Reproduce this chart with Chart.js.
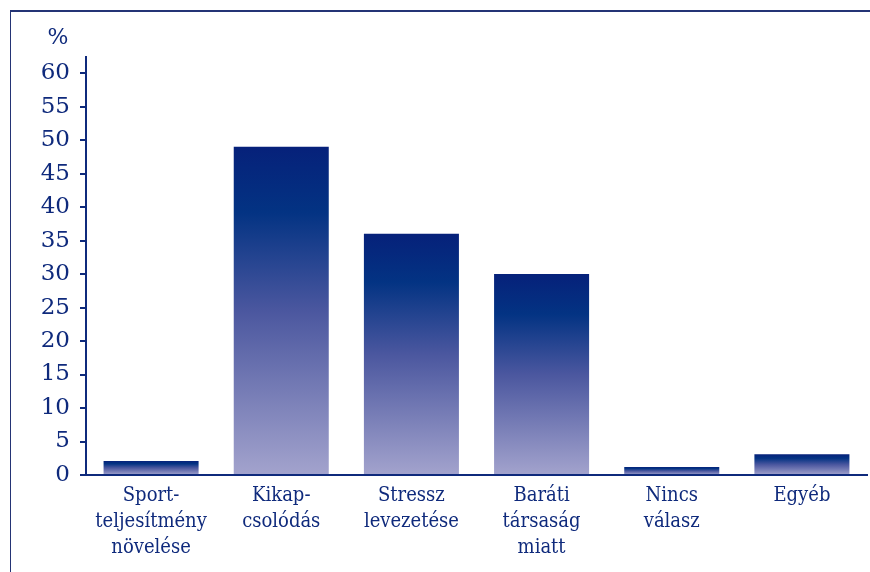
<!DOCTYPE html>
<html>
<head>
<meta charset="utf-8">
<script src="https://cdn.jsdelivr.net/npm/chart.js@4/dist/chart.umd.min.js"></script>
<style>
  html, body { margin: 0; padding: 0; background: #fff; }
  #wrap { position: relative; width: 870px; height: 572px; }
  #frame { position: absolute; left: 10px; top: 10px; right: 0; bottom: 0;
           border-top: 2px solid #243475; border-left: 1.5px solid #243475; }
  canvas { position: absolute; left: 0; top: 0; }
</style>
</head>
<body>
<div id="wrap">
  <div id="frame"></div>
  <canvas id="myChart" width="870" height="572"></canvas>
</div>
<script>
// KATEGORIAK ES ERTEKEK
const categories = [
    ['Sport-', 'teljesítmény', 'növelése'],
    ['Kikap-', 'csolódás'],
    ['Stressz', 'levezetése'],
    ['Baráti', 'társaság', 'miatt'],
    ['Nincs', 'válasz'],
    ['Egyéb']
];
const values = [2.1, 49, 36, 30, 1.2, 3.1];
const yTicks = [0, 5, 10, 15, 20, 25, 30, 35, 40, 45, 50, 55, 60];
const unitLabel = '%';

const navy = '#0f2a7c';
const fontFamily = '"DejaVu Serif", serif';
const condFamily = '"DejaVu Serif Condensed", "DejaVu Serif", serif';

// szines atmenet minden oszlopra kulon
function barGradient(context) {
    const chart = context.chart;
    if (!chart.chartArea) return '#2a3f8c';
    const yScale = chart.scales.y;
    const top = yScale.getPixelForValue(context.raw);
    const bottom = yScale.getPixelForValue(0);
    const g = chart.ctx.createLinearGradient(0, top, 0, bottom);
    g.addColorStop(0, '#06217a');
    g.addColorStop(0.2, '#033383');
    g.addColorStop(0.5, '#4b579f');
    g.addColorStop(1, '#a3a3cd');
    return g;
}

// a "%" felirat a tengely folott
const unitPlugin = {
    id: 'unitPlugin',
    afterDraw(chart) {
        const ctx = chart.ctx;
        const yScale = chart.scales.y;
        ctx.save();
        ctx.fillStyle = navy;
        ctx.font = '22px ' + fontFamily;
        ctx.textAlign = 'center';
        ctx.textBaseline = 'middle';
        ctx.fillText(unitLabel, yScale.right - 28, yScale.top - 19);
        ctx.restore();
    }
};

const ctx = document.getElementById('myChart').getContext('2d');
window.myChart = new Chart(ctx, {
    type: 'bar',
    data: {
        labels: categories,
        datasets: [{
            data: values,
            backgroundColor: barGradient,
            borderWidth: 0,
            barPercentage: 0.73,
            categoryPercentage: 1
        }]
    },
    options: {
        responsive: false,
        animation: false,
        layout: { padding: { top: 57, right: 3, left: 0, bottom: 0 } },
        plugins: {
            legend: { display: false },
            tooltip: { enabled: false }
        },
        scales: {
            x: {
                grid: { display: false, drawTicks: false },
                border: { color: navy, width: 2 },
                afterFit(scale) { scale.height = 97; },
                ticks: {
                    color: navy,
                    padding: 8,
                    maxRotation: 0,
                    autoSkip: false,
                    font: { family: condFamily, size: 20, lineHeight: 1.3 }
                }
            },
            y: {
                min: 0,
                max: 62.4,
                afterFit(scale) { scale.width = 86; },
                afterBuildTicks(scale) {
                    scale.ticks = yTicks.map(v => ({ value: v }));
                },
                grid: { drawOnChartArea: false, drawTicks: true, tickLength: 6, color: navy, lineWidth: 2 },
                border: { color: navy, width: 2 },
                ticks: {
                    color: navy,
                    padding: 10,
                    font: { family: fontFamily, size: 23 }
                }
            }
        }
    },
    plugins: [unitPlugin]
});
</script>
</body>
</html>
